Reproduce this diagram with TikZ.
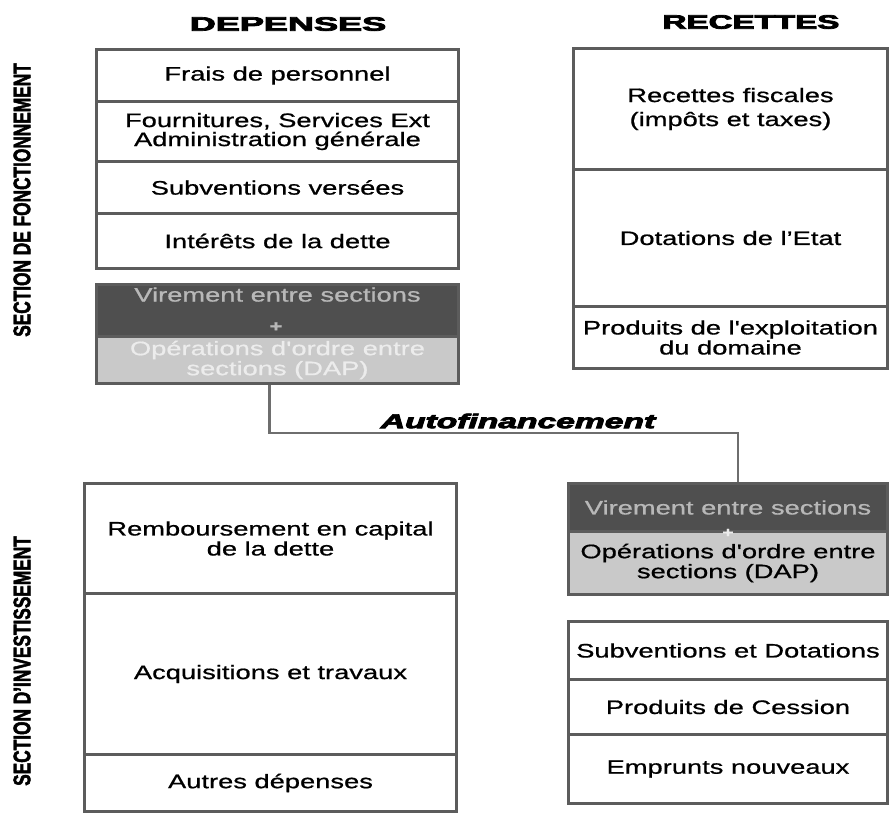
\documentclass[tikz,border=0pt]{standalone}
\usepackage{fontspec}
\usepackage{graphicx}
\setmainfont{Liberation Sans}
\newfontfamily\bodyfont[FakeStretch=1.4,FakeBold=0.8]{Liberation Sans}
\newfontfamily\headfont[FakeBold=3.5]{Liberation Sans}
\newfontfamily\condfont[FakeStretch=0.72,FakeBold=2]{Liberation Sans}
\definecolor{bordergray}{HTML}{5C5C5C}
\definecolor{conngray}{HTML}{6E6E6E}
\definecolor{darkfill}{HTML}{4F4F4F}
\definecolor{darktext}{HTML}{B8B8B8}
\definecolor{lightfill}{HTML}{C9C9C9}
\definecolor{paletext}{HTML}{ECECEC}
\tikzset{
  cell/.style={draw=bordergray, line width=3pt, fill=white, anchor=north west,
    inner sep=0pt, align=center, text=black,
    font=\bodyfont\fontsize{19.5}{20}\selectfont},
  darkcell/.style={cell, fill=darkfill, text=darktext},
  lightcell/.style={cell, fill=lightfill},
  conn/.style={draw=conngray, line width=2.8pt},
  header/.style={font=\headfont\bfseries\fontsize{19.5}{20}\selectfont, inner sep=0pt},
  sectionlabel/.style={rotate=90, font=\condfont\bfseries\fontsize{24}{26}\selectfont, inner sep=0pt},
}
\begin{document}
\begin{tikzpicture}[x=1pt,y=-1pt]
\fill[white] (0,0) rectangle (889,812);
\useasboundingbox (0,0) rectangle (889,812);

% headers
\node[header] (dep) at (288,24) {\scalebox{1.85}[1]{DEPENSES}};
\node[header] (rec) at (751,22) {\scalebox{1.70}[1]{RECETTES}};

% section labels
\node[sectionlabel] (secf) at (22,200) {SECTION DE FONCTIONNEMENT};
\node[sectionlabel] (seci) at (22,661) {SECTION D’INVESTISSEMENT};

% left top block
\node[cell, minimum width=362pt, minimum height=52pt] (fp) at (95,48) {Frais de personnel};
\node[cell, minimum width=362pt, minimum height=60pt] (fs) at (95,100) {Fournitures, Services Ext\\[-1pt]Administration générale};
\node[cell, minimum width=362pt, minimum height=52pt] (sv) at (95,160) {Subventions versées};
\node[cell, minimum width=362pt, minimum height=55pt] (id) at (95,212) {Intérêts de la dette};

% left virement
\node[darkcell, minimum width=362pt, minimum height=52pt] (lv1) at (95,283) {Virement entre sections\\[12pt]};
\node[lightcell, text=paletext, minimum width=362pt, minimum height=47pt] (lv2) at (95,335) {Opérations d'ordre entre\\sections (DAP)};
\node[font=\bodyfont\bfseries\fontsize{16}{16}\selectfont, text=darktext, inner sep=0pt] (lplus) at (276,327) {+};

% right top block
\node[cell, minimum width=314pt, minimum height=121pt] (rf) at (572,47) {Recettes fiscales\\[4pt](impôts et taxes)};
\node[cell, minimum width=314pt, minimum height=137pt] (de) at (572,168) {Dotations de l’Etat};
\node[cell, minimum width=314pt, minimum height=62pt] (pe) at (572,305) {Produits de l'exploitation\\du domaine};

% autofinancement
\node[font=\headfont\bfseries\itshape\fontsize{20}{20}\selectfont, inner sep=0pt] (af) at (518,421) {\scalebox{1.68}[1]{Autofinancement}};

% right virement
\node[darkcell, minimum width=319pt, minimum height=48pt] (rv1) at (567,482) {Virement entre sections};
\node[lightcell, minimum width=319pt, minimum height=63pt] (rv2) at (567,530) {Opérations d'ordre entre\\sections (DAP)};
\node[font=\bodyfont\bfseries\fontsize{14}{14}\selectfont, text=paletext, inner sep=0pt] (rplus) at (728,533) {+};

% connector
\coordinate (mid) at (500,433);
\draw[conn] ([xshift=-8pt]lv2.south) |- (mid) -| ([xshift=10pt]rv1.north);

% bottom left block
\node[cell, minimum width=372pt, minimum height=110pt] (rc) at (83,482) {Remboursement en capital\\de la dette};
\node[cell, minimum width=372pt, minimum height=161pt] (at) at (83,592) {Acquisitions et travaux};
\node[cell, minimum width=372pt, minimum height=57pt] (ad) at (83,753) {Autres dépenses};

% right lower block
\node[cell, minimum width=319pt, minimum height=58pt] (sd) at (567,620) {Subventions et Dotations};
\node[cell, minimum width=319pt, minimum height=55pt] (pc) at (567,678) {Produits de Cession};
\node[cell, minimum width=319pt, minimum height=69pt] (en) at (567,733) {Emprunts nouveaux};
\end{tikzpicture}
\end{document}
